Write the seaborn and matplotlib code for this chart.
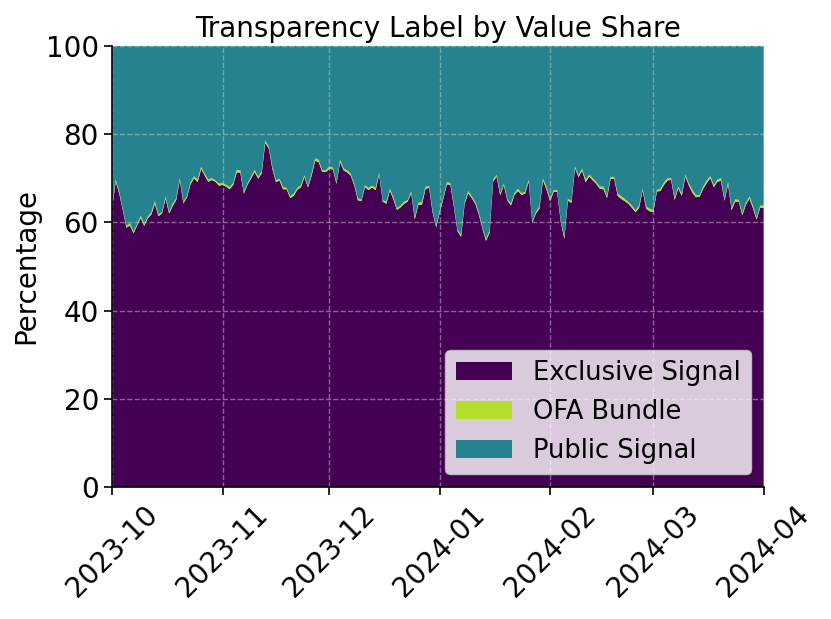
import seaborn as sns
import matplotlib.pyplot as plt
import matplotlib.dates as mdates
import pandas as pd
import numpy as np

# top of the OFA band (exclusive + OFA share), one value per day
boundary = [63.8, 69.7, 66.9, 63.0, 59.2, 59.8, 57.9, 59.6, 61.5, 59.6,
            61.3, 62.3, 64.8, 61.8, 62.3, 65.9, 62.4, 64.2, 65.5, 70.0,
            64.7, 65.9, 69.1, 70.4, 69.7, 72.6, 71.0, 69.7, 70.0, 69.5,
            68.8, 68.9, 68.5, 68.0, 68.9, 71.9, 71.8, 66.9, 68.8, 70.3,
            71.9, 70.3, 71.6, 78.6, 77.1, 72.6, 69.5, 69.9, 68.0, 67.8,
            65.9, 66.5, 67.8, 68.4, 70.7, 68.2, 71.0, 74.5, 74.2, 71.8,
            71.8, 72.6, 72.4, 69.0, 74.2, 72.2, 71.8, 71.0, 68.8, 65.5,
            65.1, 68.4, 67.8, 68.3, 67.8, 71.2, 65.0, 64.7, 67.6, 65.7,
            63.2, 63.8, 64.7, 65.0, 67.0, 61.2, 64.4, 64.6, 68.0, 68.3,
            62.7, 59.2, 62.7, 65.7, 69.1, 68.9, 63.8, 58.3, 57.2, 64.6,
            67.1, 65.9, 64.6, 62.3, 58.9, 56.2, 58.1, 69.7, 70.8, 66.5,
            68.8, 65.3, 64.3, 66.6, 67.6, 66.6, 66.9, 69.7, 60.2, 62.4,
            63.6, 69.9, 68.1, 65.3, 67.3, 67.3, 60.4, 56.8, 65.3, 64.9,
            72.7, 70.6, 72.2, 69.7, 70.8, 70.0, 69.1, 68.1, 68.1, 65.9,
            70.3, 70.3, 66.5, 65.9, 65.3, 64.6, 63.8, 62.7, 63.8, 67.6,
            63.6, 63.1, 62.8, 67.4, 67.6, 69.1, 70.0, 70.0, 65.6, 68.1,
            66.5, 70.8, 68.8, 67.3, 66.2, 66.2, 68.1, 69.5, 70.5, 68.4,
            69.7, 70.0, 65.3, 69.1, 63.2, 65.2, 65.1, 62.1, 64.4, 65.9,
            63.8, 61.0, 63.8, 63.8]

ofa_bundle = [0.4, 0.5, 0.4, 0.3, 0.4, 0.5, 0.4, 0.3, 0.5, 0.4,
              0.4, 0.5, 0.6, 0.4, 0.3, 0.5, 0.4, 0.5, 0.4, 0.5,
              0.4, 0.3, 0.5, 0.4, 0.6, 0.5, 0.4, 0.5, 0.4, 0.3,
              0.5, 0.4, 0.4, 0.5, 0.4, 0.6, 0.5, 0.4, 0.3, 0.4,
              0.5, 0.4, 0.5, 0.6, 0.4, 0.5, 0.4, 0.4, 0.5, 0.3,
              0.4, 0.5, 0.4, 0.5, 0.4, 0.3, 0.5, 0.6, 0.5, 0.4,
              0.4, 0.5, 0.4, 0.3, 0.5, 0.4, 0.5, 0.4, 0.4, 0.5,
              0.3, 0.4, 0.5, 0.4, 0.5, 0.4, 0.3, 0.5, 0.4, 0.5,
              0.4, 0.4, 0.5, 0.3, 0.4, 0.5, 0.4, 0.6, 0.5, 0.4,
              0.4, 0.3, 0.5, 0.4, 0.5, 0.4, 0.4, 0.3, 0.5, 0.4,
              0.5, 0.4, 0.4, 0.5, 0.3, 0.4, 0.5, 0.4, 0.5, 0.4,
              0.4, 0.3, 0.5, 0.4, 0.5, 0.4, 0.4, 0.5, 0.3, 0.4,
              0.5, 0.4, 0.6, 0.5, 0.4, 0.4, 0.3, 0.5, 0.4, 0.5,
              0.4, 0.4, 0.5, 0.6, 0.4, 0.5, 0.4, 0.5, 0.6, 0.4,
              0.5, 0.4, 0.5, 0.6, 0.5, 0.4, 0.5, 0.4, 0.5, 0.4,
              0.5, 0.6, 0.5, 0.4, 0.5, 0.6, 0.5, 0.4, 0.5, 0.4,
              0.5, 0.4, 0.5, 0.6, 0.5, 0.4, 0.5, 0.6, 0.5, 0.4,
              0.5, 0.6, 0.4, 0.5, 0.4, 0.5, 0.4, 0.5, 0.4, 0.5,
              0.6, 0.4, 0.5, 0.5]

dates = pd.date_range('2023-10-01', '2024-04-01', freq='D')
labels = ['Exclusive Signal', 'OFA Bundle', 'Public Signal']
colors = ['#440154', '#b5de2b', '#26828e']

df = pd.DataFrame({'date': dates, 'top': boundary, 'ofa': ofa_bundle})
df['exclusive'] = df['top'] - df['ofa']
df['public'] = 100 - df['top']

plt.rcParams['font.family'] = ['DejaVu Sans']

fig = plt.figure(figsize=(8.31, 6.19), dpi=100)
ax = fig.add_axes([0.135, 0.213, 0.784, 0.713])
ax.stackplot(df['date'], df['exclusive'], df['ofa'], df['public'],
             labels=labels, colors=colors, linewidth=0)
ax.set_xlim(dates[0], dates[-1])
ax.set_ylim(0, 100)
ax.set_title('Transparency Label by Value Share', fontsize=20)
ax.set_ylabel('Percentage', fontsize=20)
ax.xaxis.set_major_locator(mdates.MonthLocator())
ax.xaxis.set_major_formatter(mdates.DateFormatter('%Y-%m'))
ax.tick_params(axis='both', labelsize=20, length=6, width=1.2)
plt.setp(ax.get_xticklabels(), rotation=45)
ax.grid(True, linestyle='--', color='#cccccc', alpha=0.5, linewidth=1)
sns.despine(ax=ax)
ax.spines['left'].set_linewidth(1.2)
ax.spines['bottom'].set_linewidth(1.2)
ax.legend(loc='lower right', fontsize=18.5, handlelength=2.2)
fig.savefig('out.png', dpi=100)
